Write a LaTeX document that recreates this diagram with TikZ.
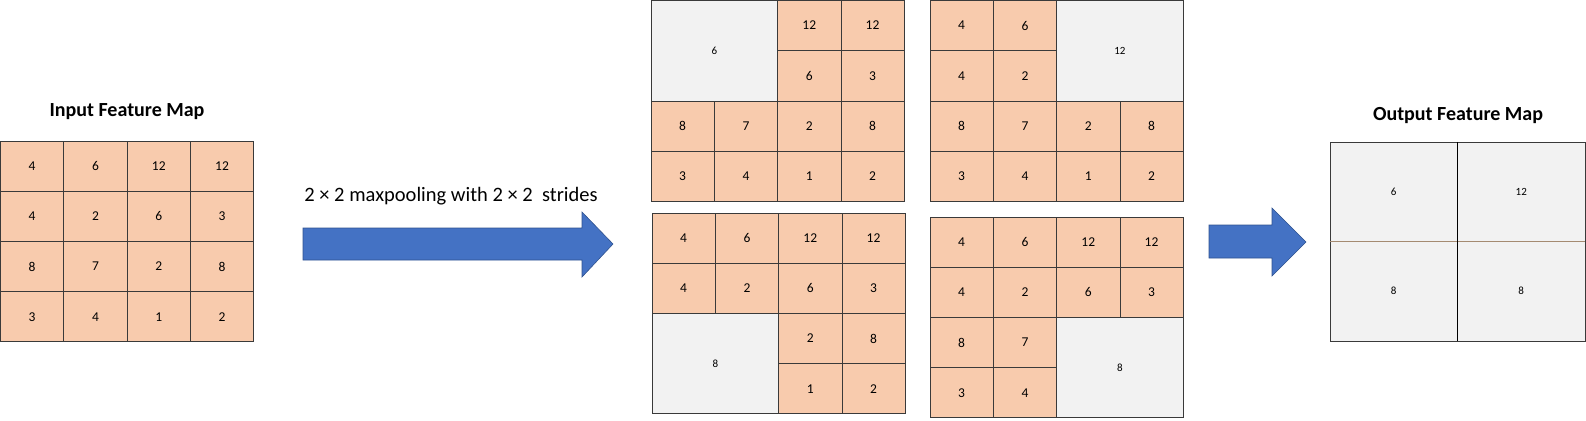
\documentclass[tikz,border=0pt]{standalone}
\usepackage{fontspec}
\setmainfont{Carlito}
\definecolor{peach}{HTML}{F8CBAD}
\definecolor{greyfill}{HTML}{F2F2F2}
\definecolor{linegray}{HTML}{3A3A3A}
\definecolor{arrowblue}{HTML}{4472C4}
\definecolor{arrowedge}{HTML}{2F528F}
\definecolor{brownline}{HTML}{A58B72}
\def\cw{63.3}
\def\ch{50.2}
\def\mapvals{0/0/4,1/0/6,2/0/12,3/0/12,0/1/4,1/1/2,2/1/6,3/1/3,0/2/8,1/2/7,2/2/2,3/2/8,0/3/3,1/3/4,2/3/1,3/3/2}
\newcommand\featmap[6]{%
  \foreach \c/\r/\v in \mapvals {%
    \pgfmathtruncatemacro\rowq{floor(\r/2)}%
    \pgfmathtruncatemacro\colq{floor(\c/2)}%
    \pgfmathtruncatemacro\skipit{(\rowq==#4)&&(\colq==#5)}%
    \ifnum\skipit=0
      \node[cellbox] (#1-\r-\c) at ({#2+(\c+0.5)*\cw},{#3+(\r+0.5)*\ch}) {\v};
    \fi
  }
  \ifnum#4>-1
    \node[greybox] (#1-g) at ({#2+(#5+0.5)*2*\cw},{#3+(#4+0.5)*2*\ch}) {#6};
  \fi
}
\begin{document}
\begin{tikzpicture}[x=1pt,y=-1pt,
  cellbox/.style={draw=linegray, line width=0.8pt, fill=peach, minimum width=\cw pt, minimum height=\ch pt, inner sep=0pt, font=\fontsize{13.5}{13.5}\selectfont},
  greybox/.style={draw=linegray, line width=0.8pt, fill=greyfill, minimum width=2*\cw pt, minimum height=2*\ch pt, inner sep=0pt, font=\fontsize{11}{11}\selectfont},
  outcell/.style={fill=greyfill, draw=none, minimum width=127.5pt, minimum height=99.5pt, inner sep=0pt, font=\fontsize{11}{11}\selectfont},
  titletext/.style={font=\bfseries\fontsize{20}{20}\selectfont},
  labeltext/.style={font=\fontsize{20.5}{20.5}\selectfont},
  blockarrow/.style={fill=arrowblue, draw=arrowedge, line width=0.6pt, line join=miter}]
\useasboundingbox (0,0) rectangle (1586,420);

% input map
\node[titletext] (intitle) at (127,112) {Input Feature Map};
\featmap{in}{0.5}{141}{-1}{-1}{}

% label and arrow 1
\node[labeltext] (oplabel) at (451,196) {2 × 2 maxpooling with 2 × 2\ \ strides};
\draw[blockarrow] (303,228) -- (582,228) -- (582,212) -- (613,244) -- (582,277) -- (582,260) -- (303,260) -- cycle;

% four pooling windows
\featmap{tl}{651}{0.5}{0}{0}{6}
\featmap{tr}{930}{0.5}{0}{1}{12}
\featmap{bl}{652}{213}{1}{0}{8}
\featmap{br}{930}{217}{1}{1}{8}

% arrow 2
\draw[blockarrow] (1209,225) -- (1272,225) -- (1272,208) -- (1306,242) -- (1272,276) -- (1272,258) -- (1209,258) -- cycle;

% output map
\node[titletext] (outtitle) at (1458,116) {Output Feature Map};
\node[outcell] (out-0-0) at (1393.75,191.75) {6};
\node[outcell] (out-0-1) at (1521.25,191.75) {12};
\node[outcell] (out-1-0) at (1393.75,291.25) {8};
\node[outcell] (out-1-1) at (1521.25,291.25) {8};
\draw[linegray, line width=0.6pt] (out-0-0.north west) rectangle (out-1-1.south east);
\draw[brownline, line width=1.3pt] (out-0-0.south west) -- (out-0-1.south east);
\draw[black, line width=1.5pt] (out-0-0.north east) -- (out-1-0.south east);
\end{tikzpicture}
\end{document}
